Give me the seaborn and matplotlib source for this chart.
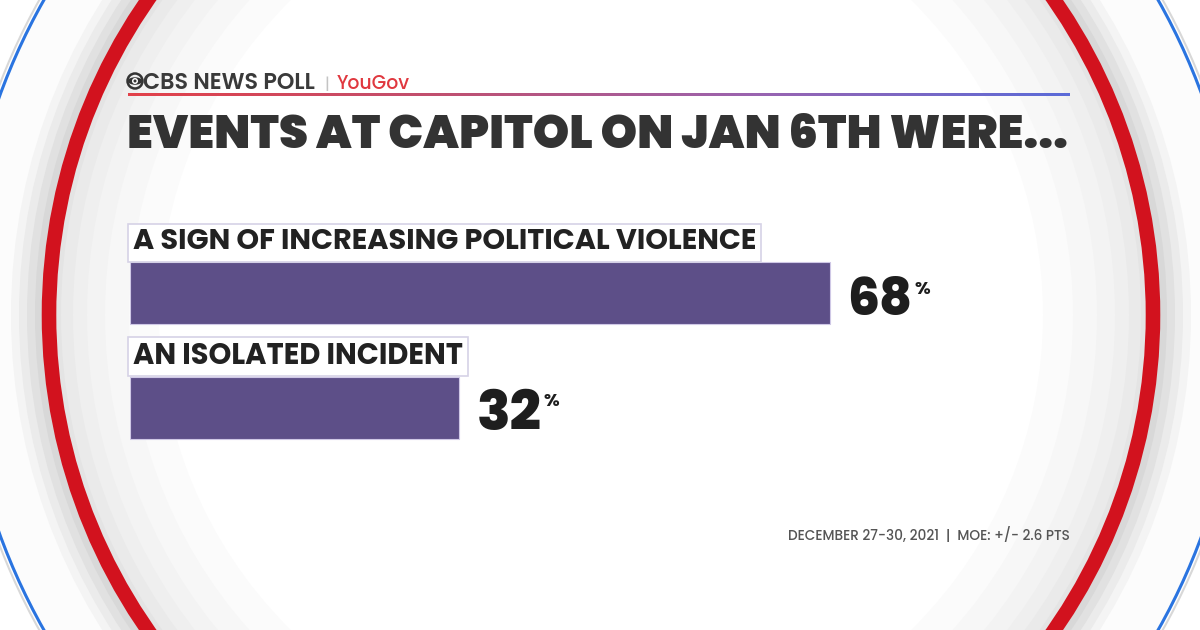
import numpy as np
import matplotlib
matplotlib.use("Agg")
import matplotlib.pyplot as plt
from matplotlib.patches import Circle, Ellipse
import seaborn as sns

categories = ["A SIGN OF INCREASING POLITICAL VIOLENCE", "AN ISOLATED INCIDENT"]
values = [68, 32]
title = "EVENTS AT CAPITOL ON JAN 6TH WERE..."
source = "CBS NEWS POLL"
partner = "YouGov"
footer_date = "DECEMBER 27-30, 2021"
footer_moe = "MOE: +/- 2.6 PTS"

sns.set_theme(style="white")
FAM = ["Poppins", "Lato", "DejaVu Sans"]
plt.rcParams["font.family"] = FAM

W, H = 1200, 630
fig = plt.figure(figsize=(12, 6.3), dpi=100)
fig.patch.set_facecolor("white")

# ---- background decoration (pixel coordinates) ----
bg = fig.add_axes([0, 0, 1, 1], zorder=0)
bg.set_xlim(0, W)
bg.set_ylim(H, 0)
bg.axis("off")
cx, cy = 601, 315
bg.add_patch(Circle((cx, cy), 644, fc="none", ec="#d8d8d8", lw=1.5))
bg.add_patch(Circle((cx, cy), 640, fc="#fcfcfc", ec="#2a74e0", lw=2.2))
for r, c in [(590, "#f4f4f4"), (582, "#ebebeb"), (574, "#e1e1e1"), (566, "#d8d8d8")]:
    bg.add_patch(Circle((cx, cy), r, fc=c, ec="none"))
bg.add_patch(Circle((cx, cy), 552, fc="#e4e4e4", ec="#d2121e", lw=10.5))
for r, c in [(540, "#eaeaea"), (528, "#efefef"), (514, "#f3f3f3"), (496, "#f7f7f7"),
             (472, "#fbfbfb"), (442, "#ffffff")]:
    bg.add_patch(Circle((cx, cy), r, fc=c, ec="none"))

# header gradient line
grad = np.linspace(0, 1, 256).reshape(1, -1)
cmap = matplotlib.colors.LinearSegmentedColormap.from_list(
    "rb", ["#e2414a", "#c05070", "#9a64b0", "#5b6bd8"])
bg.imshow(grad, extent=[128, 1070, 96, 93.5], aspect="auto", cmap=cmap, zorder=2)

# CBS eye logo
bg.add_patch(Circle((135, 81), 7.5, fc="none", ec="#333333", lw=1.8, zorder=3))
bg.add_patch(Ellipse((135, 81), 14, 7.5, fc="#333333", ec="none", zorder=3))
bg.add_patch(Circle((135, 81), 3.0, fc="white", ec="none", zorder=4))
bg.add_patch(Circle((135, 81), 1.5, fc="#333333", ec="none", zorder=5))

renderer = fig.canvas.get_renderer()


def fit(t, target_w):
    w = t.get_window_extent(renderer).width
    t.set_fontsize(t.get_fontsize() * target_w / w)


t_src = bg.text(143, 89, source, fontsize=15, fontweight="semibold", color="#3a3a3a",
                va="baseline", ha="left", zorder=3)
fit(t_src, 172)
bg.text(327, 89, "|", fontsize=12, color="#c4c4c4", va="baseline", ha="center", zorder=3)
t_yg = bg.text(337, 89, partner, fontsize=15, fontweight="medium", color="#e0383f",
               va="baseline", ha="left", zorder=3)
fit(t_yg, 73)

t_title = bg.text(127, 148, title, fontsize=38, fontweight="black", color="#333333",
                  va="baseline", ha="left", zorder=3)
fit(t_title, 940)

t_foot = bg.text(1070, 540, f"{footer_date}  |  {footer_moe}", fontsize=10,
                 fontweight="medium", color="#555555", va="baseline", ha="right", zorder=3)
fit(t_foot, 283)

# ---- bar chart ----
ax = fig.add_axes([130 / W, 1 - 465 / H, 1029 / W, 229 / H], zorder=2)
ax.patch.set_alpha(0)
sns.barplot(x=values, y=categories, orient="h", color="#5d4f88", width=0.54,
            saturation=1, edgecolor="#cfc8e6", linewidth=0.8, ax=ax)
ax.set_xlim(0, 100)
ax.set_ylim(1.5, -0.5)
ax.axis("off")

label_targets = [624, 330]
for i, (cat, v) in enumerate(zip(categories, values)):
    lt = ax.text(0.3, i - 0.385, cat, fontsize=18, fontweight="bold", color="#222222",
                 ha="left", va="baseline", zorder=1,
                 bbox=dict(boxstyle="square,pad=0.16", fc="white", ec="#d6d2e6", lw=1.2))
    fit(lt, label_targets[i])
    nt = ax.annotate(f"{v}", xy=(v, i), xytext=(12.5, -16), textcoords="offset points",
                     fontsize=38, fontweight="heavy", color="#1e1e1e", ha="left",
                     va="baseline")
    fit(nt, 65)
    ax.annotate("%", xy=(1, 1), xycoords=nt, xytext=(1.5, -2.5), textcoords="offset points",
                fontsize=13, fontweight="bold", color="#1e1e1e", ha="left", va="top")

fig.savefig("out.png", dpi=100, facecolor=fig.get_facecolor())
